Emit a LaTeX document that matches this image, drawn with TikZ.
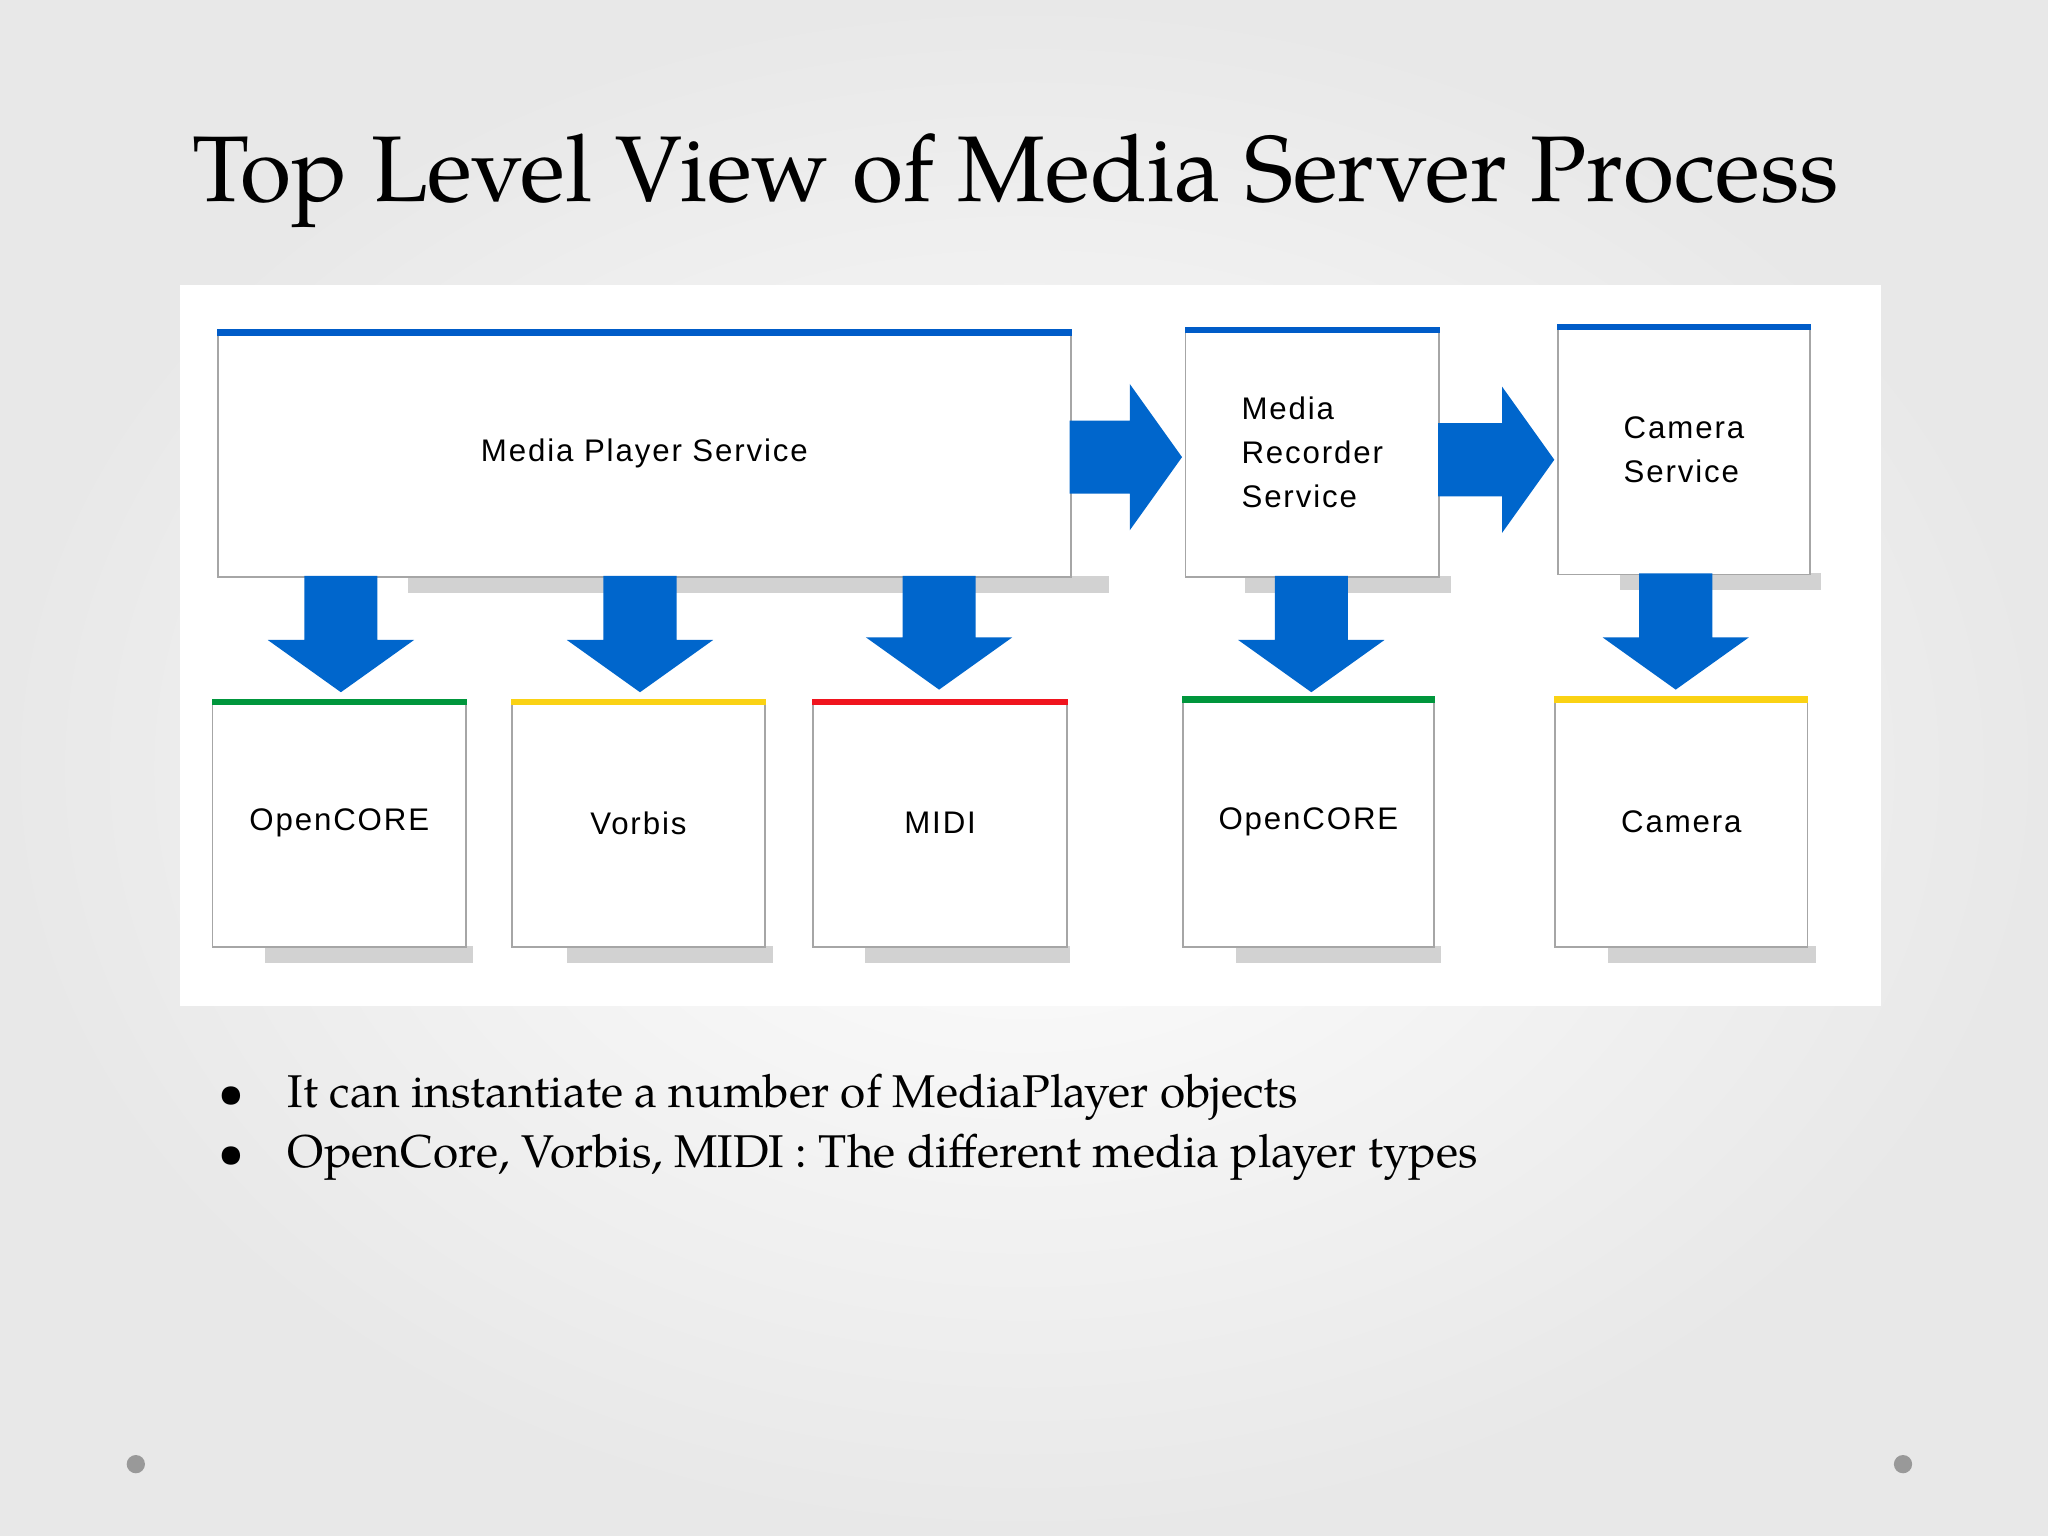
\documentclass[tikz,border=0pt]{standalone}
\usepackage{fontspec}
\setmainfont{TeX Gyre Pagella}
\newfontfamily\diagfont{Liberation Sans}[LetterSpace=6]
\usetikzlibrary{positioning,calc}
\definecolor{barblue}{RGB}{0,92,200}
\definecolor{arrblue}{RGB}{0,102,204}
\definecolor{bargreen}{RGB}{0,150,60}
\definecolor{baryellow}{RGB}{250,210,20}
\definecolor{barred}{RGB}{240,20,30}

\tikzset{
  box/.style={draw=gray!70, fill=white, anchor=north west, inner sep=0pt,
    font=\diagfont\fontsize{6.8}{9.5}\selectfont, align=left},
  shade bar/.style={fill=gray!35},
  blockarrow/.style={fill=arrblue, draw=none}
}

% down block arrow: x centre, top y, bottom y
\newcommand{\dnarr}[3]{%
  \fill[blockarrow] (#1-28,#2) -- (#1+28,#2) -- (#1+28,#3-40) -- (#1+56,#3-40)
    -- (#1,#3) -- (#1-56,#3-40) -- (#1-28,#3-40) -- cycle;}
% right block arrow: left x, right x, centre y
\newcommand{\rtarr}[3]{%
  \fill[blockarrow] (#1,#3-28) -- (#2-40,#3-28) -- (#2-40,#3-56) -- (#2,#3)
    -- (#2-40,#3+56) -- (#2-40,#3+28) -- (#1,#3+28) -- cycle;}

\begin{document}
\begin{tikzpicture}[x=0.01cm, y=-0.01cm]

% Background
\shade[inner color=white, outer color=gray!18] (0,0) rectangle (1568,1176);
\useasboundingbox (0,0) rectangle (1568,1176);

% Title
\node (title) at (778,138) {\fontsize{20.3}{24}\selectfont Top Level View of Media Server Process};

% Panel
\fill[white] (138,218) rectangle (1440,770);

% Shadows
\fill[shade bar] (312,441) rectangle (849,454);
\fill[shade bar] (953,441) rectangle (1111,454);
\fill[shade bar] (1240,439) rectangle (1394,452);
\foreach \xa/\xb in {203/362, 434/592, 662/819, 946/1103, 1231/1390}
  \fill[shade bar] (\xa,724) rectangle (\xb,737);

% Top boxes
\node[box, minimum width=6.53cm, minimum height=1.89cm, align=center] (mps) at (166,252) {Media Player Service};
\node[box, minimum width=1.94cm, minimum height=1.91cm] (mrs) at (907,250) {Media\\Recorder\\Service};
\node[box, minimum width=1.93cm, minimum height=1.91cm] (cs) at (1192,248) {Camera\\Service};

% Bottom boxes
\node[box, minimum width=1.94cm, minimum height=1.89cm] (oc1) at (162,535) {OpenCORE};
\node[box, minimum width=1.94cm, minimum height=1.89cm] (vorbis) at (391,535) {Vorbis};
\node[box, minimum width=1.94cm, minimum height=1.89cm] (midi) at (622,535) {MIDI};
\node[box, minimum width=1.92cm, minimum height=1.91cm] (oc2) at (905,533) {OpenCORE};
\node[box, minimum width=1.93cm, minimum height=1.91cm] (cam) at (1190,533) {Camera};

% Colour bars
\foreach \n/\c in {mps/barblue, mrs/barblue, cs/barblue, oc1/bargreen, vorbis/baryellow,
    midi/barred, oc2/bargreen, cam/baryellow}
  \fill[\c] (\n.north west) rectangle ($(\n.north east)+(0,5)$);

% Arrows
\dnarr{261}{441}{530}
\dnarr{490}{441}{530}
\dnarr{719}{441}{528}
\dnarr{1004}{441}{530}
\dnarr{1283}{439}{528}
\rtarr{819}{905}{350}
\rtarr{1101}{1190}{352}

% Bullets
\node[anchor=west, align=left, font=\fontsize{10}{13}\selectfont] (bul) at (155,863)
  {\textbullet\hspace{0.95em}It can instantiate a number of MediaPlayer objects\\
   \textbullet\hspace{0.95em}OpenCore, Vorbis, MIDI : The different media player types};

% Corner dots
\fill[gray!80] (104,1121) circle (7);
\fill[gray!80] (1457,1121) circle (7);

\end{tikzpicture}
\end{document}
